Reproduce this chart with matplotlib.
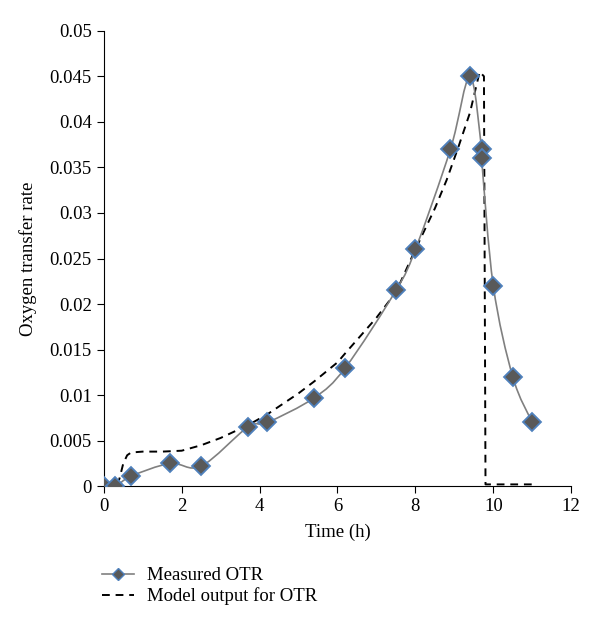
import matplotlib.pyplot as plt
import numpy as np
from matplotlib.lines import Line2D
from matplotlib.path import Path
from matplotlib.patches import PathPatch

plt.rcParams['font.family'] = ['Liberation Serif', 'DejaVu Serif']

# measured OTR (time in h)
t_meas = [0, 0.3, 0.7, 1.7, 2.5, 3.7, 4.2, 5.4, 6.2, 7.5, 8.0, 8.9, 9.4, 9.7, 9.7, 10.0, 10.5, 11.0]
otr_meas = [0, 0, 0.0011, 0.0025, 0.0022, 0.0065, 0.007, 0.0097, 0.013, 0.0215, 0.026, 0.037,
            0.045, 0.037, 0.036, 0.022, 0.012, 0.007]

# model output
t_model = [0, 0.3, 0.4, 0.5, 0.6, 0.7, 1.0, 1.5, 2.0, 2.5, 3.0, 3.7, 4.2, 5.0, 5.4, 6.0, 6.2,
           7.0, 7.5, 8.0, 8.5, 8.8, 9.1, 9.4, 9.65, 9.76, 9.8, 10.5, 11.0]
otr_model = [0, 0, 0.0008, 0.0025, 0.0034, 0.0037, 0.0038, 0.0038, 0.0039, 0.0045, 0.0053,
             0.0067, 0.0079, 0.0102, 0.0115, 0.0136, 0.0146, 0.0185, 0.0213, 0.026, 0.0305,
             0.0336, 0.0372, 0.041, 0.0455, 0.045, 0.0002, 0.0002, 0.0002]

fig = plt.figure(figsize=(6, 6.29), dpi=100)
ax = fig.add_axes([0.173, 0.227, 0.779, 0.724])

ax.plot(t_model, otr_model, '--', color='black', lw=1.4, dashes=(4, 3), zorder=3)

# smoothed line through the measured points (like a spreadsheet "smoothed line")
pts = np.column_stack([t_meas, otr_meas])
verts = [pts[0]]
codes = [Path.MOVETO]
for i in range(len(pts) - 1):
    p0 = pts[i - 1] if i > 0 else pts[i]
    p1, p2 = pts[i], pts[i + 1]
    p3 = pts[i + 2] if i + 2 < len(pts) else pts[i + 1]
    verts += [p1 + (p2 - p0) / 6, p2 - (p3 - p1) / 6, p2]
    codes += [Path.CURVE4] * 3
ax.add_patch(PathPatch(Path(verts, codes), facecolor='none', edgecolor='#808080', lw=1.2, zorder=4))
ax.plot(t_meas, otr_meas, 'D', markersize=9, markerfacecolor='#595959',
        markeredgecolor='#4F81BD', markeredgewidth=1.3, zorder=5)

ax.set_xlim(0, 12)
ax.set_ylim(0, 0.05)
ax.set_xticks(range(0, 13, 2))
ax.set_yticks([0, 0.005, 0.01, 0.015, 0.02, 0.025, 0.03, 0.035, 0.04, 0.045, 0.05])
ax.set_yticklabels(['0', '0.005', '0.01', '0.015', '0.02', '0.025', '0.03', '0.035', '0.04', '0.045', '0.05'])
ax.spines['top'].set_visible(False)
ax.spines['right'].set_visible(False)
ax.tick_params(direction='out', length=5, labelsize=13.5)
ax.set_xlabel('Time (h)', fontsize=13.5, labelpad=6)
ax.set_ylabel('Oxygen transfer rate', fontsize=13.5, labelpad=9)

handles = [Line2D([], [], color='#808080', lw=1.2, marker='D', markersize=6,
                  markerfacecolor='#595959', markeredgecolor='#4F81BD'),
           Line2D([], [], color='black', ls='--', lw=1.4, dashes=(4, 3))]
fig.legend(handles, ['Measured OTR', 'Model output for OTR'], loc='upper left',
           bbox_to_anchor=(0.17, 0.098), frameon=False, fontsize=13.5,
           handlelength=1.7, handletextpad=0.7, labelspacing=0.15,
           borderpad=0, borderaxespad=0)

plt.savefig('out.png')
